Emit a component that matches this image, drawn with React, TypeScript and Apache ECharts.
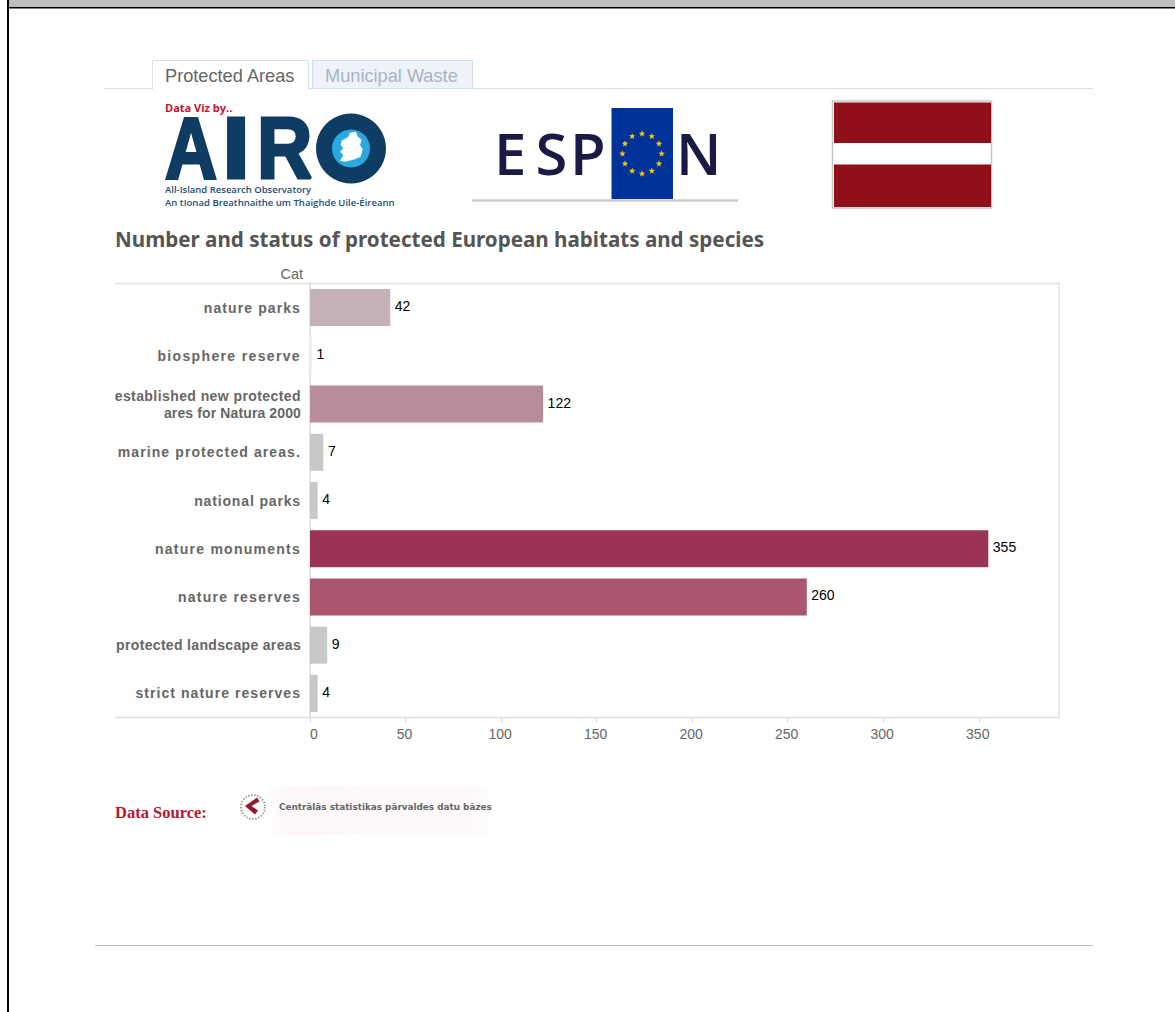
import React, { useEffect, useRef } from "react";
import * as echarts from "echarts";

const categories = [
  "nature parks",
  "biosphere reserve",
  "established new protected\nares for Natura 2000",
  "marine protected areas.",
  "national parks",
  "nature monuments",
  "nature reserves",
  "protected landscape areas",
  "strict nature reserves",
];
const values = [42, 1, 122, 7, 4, 355, 260, 9, 4];
const barColors = ["#c4b2b7", "#f1eef0", "#b98c99", "#c8c8c8", "#c8c8c8", "#9b3456", "#ab566f", "#c8c8c8", "#c8c8c8"];
const tabLabels = ["Protected Areas", "Municipal Waste"];
const titleText = "Number and status of protected European habitats and species";
const labelSpacing: Record<string, number> = {
  "nature parks": 1.1,
  "biosphere reserve": 1.35,
  "established new protected": 0.42,
  "ares for Natura 2000": 0.12,
  "marine protected areas.": 1.1,
  "national parks": 0.85,
  "nature monuments": 1.25,
  "nature reserves": 1.25,
  "protected landscape areas": 0.33,
  "strict nature reserves": 1.05,
};

const SANS = '"Liberation Sans", Arial, sans-serif';
const NAVY = "#0f3c62";
const INK = "#1a1a44";

function star(cx: number, cy: number, r: number) {
  const pts: number[][] = [];
  for (let i = 0; i < 10; i++) {
    const a = -Math.PI / 2 + (i * Math.PI) / 5;
    const rr = i % 2 ? r * 0.42 : r;
    pts.push([cx + rr * Math.cos(a), cy + rr * Math.sin(a)]);
  }
  return pts;
}

function bigLetter(t: string, x: number, y: number, size: number, fill: string, font: string, weight: any, sx = 1, lw = 0) {
  return {
    type: "text", x, y, scaleX: sx, originX: 0,
    style: { text: t, fill, font: `${weight} ${size}px ${font}`, textVerticalAlign: "middle", stroke: lw ? fill : undefined, lineWidth: lw },
  };
}
function line(x1: number, y1: number, x2: number, y2: number, stroke: string, lineWidth: number) {
  return { type: "line", shape: { x1, y1, x2, y2 }, style: { stroke, lineWidth } };
}

const ireland = [[65,62],[85,50],[90,38],[108,35],[112,48],[125,60],[120,75],[128,88],[122,110],[105,118],[75,125],[60,122],[70,105],[60,95],[70,85],[62,75]]
  .map(([x, y]) => [320 + x / 3, 120 + y / 3]);
const chevron = [[257,797.5],[245,806],[255,814.5],[258,810.5],[251.5,806],[259.5,801.5]];

const euStars = Array.from({ length: 12 }, (_, i) => {
  const a = (i * Math.PI) / 6;
  return { type: "polygon", shape: { points: star(642 + 19.6 * Math.cos(a), 153.7 + 20 * Math.sin(a), 3.4) }, style: { fill: "#f7c600" } };
});

const graphics: any[] = [
  // page frame
  { type: "rect", shape: { x: 9, y: 0, width: 1166, height: 7 }, style: { fill: "#bdbdbd" } },
  { type: "rect", shape: { x: 7, y: 7, width: 1168, height: 1.5 }, style: { fill: "#000" } },
  { type: "rect", shape: { x: 7, y: 0, width: 2, height: 1012 }, style: { fill: "#000" } },
  // tabs
  line(104, 88.5, 1093, 88.5, "#d5e3ee", 1),
  { type: "rect", shape: { x: 152.5, y: 60.5, width: 156, height: 29 }, style: { fill: "#fff", stroke: "#d5e3ee", lineWidth: 1 } },
  line(153, 89, 308, 89, "#fff", 2),
  { type: "rect", shape: { x: 312.5, y: 60.5, width: 160, height: 28 }, style: { fill: "#eef3f9", stroke: "#d0dfec", lineWidth: 1 } },
  { type: "text", x: 165, y: 75.5, style: { text: tabLabels[0], fill: "#666", font: `18.2px ${SANS}`, textVerticalAlign: "middle" } },
  { type: "text", x: 325, y: 75.5, style: { text: tabLabels[1], fill: "#a9b3c4", font: `18.2px ${SANS}`, textVerticalAlign: "middle" } },
  // AIRO logo
  { type: "text", x: 165, y: 107, style: { text: "Data Viz by..", fill: "#c8102e", font: `bold 11px "Open Sans", ${SANS}`, textVerticalAlign: "middle" } },
  bigLetter("A", 165, 147.5, 88, NAVY, SANS, "bold", 0.82, 3),
  bigLetter("I", 222, 147.5, 88, NAVY, SANS, "bold", 1.15, 3),
  bigLetter("R", 257, 147.5, 88, NAVY, SANS, "bold", 0.87, 3),
  { type: "circle", shape: { cx: 351, cy: 148.5, r: 35 }, style: { fill: NAVY } },
  { type: "circle", shape: { cx: 351, cy: 148.5, r: 19 }, style: { fill: "#2aa9e0" } },
  { type: "polygon", shape: { points: ireland }, style: { fill: "#fff" } },
  { type: "text", x: 165, y: 189, style: { text: "All-Island Research Observatory", fill: "#1d4f78", font: `600 9.5px "Open Sans", ${SANS}`, textVerticalAlign: "middle" } },
  { type: "text", x: 165, y: 202, style: { text: "An tIonad Breathnaithe um Thaighde Uile-Éireann", fill: "#1d4f78", font: `600 9.55px "Open Sans", ${SANS}`, textVerticalAlign: "middle" } },
  // ESPON logo
  line(472, 200.5, 738, 200.5, "#cccccc", 2.5),
  { type: "rect", shape: { x: 611.5, y: 108, width: 61.5, height: 91 }, style: { fill: "#003399" } },
  ...euStars,
  bigLetter("E", 494, 152.5, 58, INK, '"Open Sans"', "600"),
  bigLetter("S", 535.5, 152.5, 58, INK, '"Open Sans"', "600"),
  bigLetter("P", 570, 152.5, 58, INK, '"Open Sans"', "600"),
  bigLetter("N", 676, 152.5, 58, INK, '"Open Sans"', "600"),
  // flag
  { type: "rect", shape: { x: 832.5, y: 101, width: 159, height: 107 }, style: { fill: "#fff", stroke: "#c8c8c8", lineWidth: 1.5 } },
  { type: "rect", shape: { x: 834, y: 102.5, width: 157, height: 40.5 }, style: { fill: "#8f0e19" } },
  { type: "rect", shape: { x: 834, y: 164.5, width: 157, height: 42.5 }, style: { fill: "#8f0e19" } },
  // title
  { type: "text", x: 115, y: 238.5, style: { text: titleText, fill: "#555", font: `bold 20.6px "Noto Sans", sans-serif`, textVerticalAlign: "middle" } },
  { type: "text", x: 303, y: 273.5, style: { text: "Cat", fill: "#666", font: `14.5px ${SANS}`, textAlign: "right", textVerticalAlign: "middle" } },
  // axis extensions
  line(115, 283.5, 310, 283.5, "#e0e0e0", 1.5),
  line(115, 717.5, 310, 717.5, "#e0e0e0", 1.5),
  // source
  { type: "text", x: 115, y: 812, style: { text: "Data Source:", fill: "#b5162f", font: `bold 16.5px "Liberation Serif", serif`, textVerticalAlign: "middle" } },
  {
    type: "rect", shape: { x: 262, y: 787, width: 240, height: 48 },
    style: { fill: new echarts.graphic.LinearGradient(0, 0, 1, 0, [
      { offset: 0, color: "rgba(250,235,238,0)" },
      { offset: 0.12, color: "rgba(250,235,238,0.4)" },
      { offset: 0.85, color: "rgba(250,238,240,0.35)" },
      { offset: 1, color: "rgba(250,238,240,0)" },
    ]) },
  },
  { type: "circle", shape: { cx: 253, cy: 807, r: 12 }, style: { fill: "none", stroke: "#a0a0a0", lineWidth: 2, lineDash: [1.5, 1.5] } },
  { type: "polygon", shape: { points: chevron }, style: { fill: "#8e1c2c" } },
  { type: "text", x: 279, y: 807, style: { text: "Centrālās statistikas pārvaldes datu bāzes", fill: "#666", font: `bold 8.85px "DejaVu Sans", sans-serif`, textVerticalAlign: "middle" } },
  // footer rule
  line(95, 945.5, 1093, 945.5, "#bcbce0", 1),
];

export default function App() {
  const ref = useRef<HTMLDivElement>(null);
  useEffect(() => {
    document.body.style.margin = "0";
    document.body.style.background = "#fff";
    const chart = echarts.init(ref.current!, null, { renderer: "svg" });
    chart.setOption({
      animation: false,
      backgroundColor: "#fff",
      grid: { left: 310, top: 283.5, width: 749, height: 434, show: true, borderColor: "#e0e0e0", borderWidth: 1.5, backgroundColor: "transparent" },
      xAxis: {
        type: "value", min: 0, max: 392, interval: 50,
        splitLine: { show: false },
        axisLine: { show: false },
        axisTick: { show: true, length: 5, lineStyle: { color: "#d8d8d8" } },
        axisLabel: { color: "#666", fontFamily: SANS, fontSize: 14, margin: 9, showMaxLabel: false, alignMinLabel: "left", padding: [0, 2, 0, 0] },
      },
      yAxis: {
        type: "category", inverse: true, data: categories,
        axisLine: { show: true, lineStyle: { color: "#dcdcdc", width: 1 } },
        axisTick: { show: false },
        axisLabel: { color: "#666", fontFamily: SANS, fontSize: 14, fontWeight: "bold", margin: 9, lineHeight: 17, align: "right", padding: [0, 0, 4, 0] },
      },
      series: [{
        type: "bar",
        data: values.map((v, i) => ({ value: v, itemStyle: { color: barColors[i] } })),
        barWidth: 37,
        label: { show: true, position: "right", distance: 4.5, offset: [0, -1.5], color: "#000", fontFamily: SANS, fontSize: 14 },
      }],
      graphic: { elements: graphics },
    });
    ref.current!.querySelectorAll("text").forEach((t) => {
      const s = labelSpacing[(t.textContent || "").trim()];
      if (s !== undefined) (t as SVGTextElement).style.letterSpacing = `${s}px`;
    });
    return () => chart.dispose();
  }, []);
  return <div ref={ref} style={{ width: 1175, height: 1012 }} />;
}
